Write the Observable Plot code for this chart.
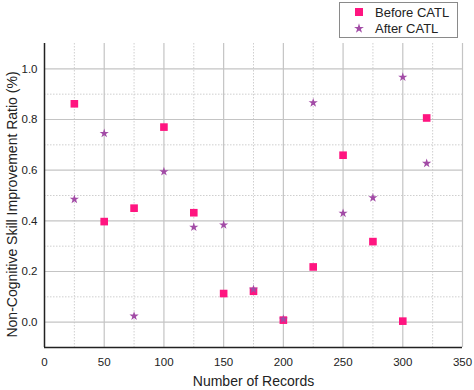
<!DOCTYPE html>
<html><head><meta charset="utf-8">
<script src="https://cdn.jsdelivr.net/npm/d3@7"></script>
<script src="https://cdn.jsdelivr.net/npm/@observablehq/plot@0.6"></script>
<style>
body{margin:0;background:#fff;font-family:"Liberation Sans",Arial,sans-serif;}
#wrap{position:relative;width:474px;height:390px;}
#legend{position:absolute;left:339px;top:2px;width:117px;height:34px;border:1px solid #8a8a8a;background:#fff;font-size:13px;color:#222;}
#legend .row{position:absolute;left:14px;display:flex;align-items:center;}
#legend svg{margin-right:11px;}
</style></head>
<body><div id="wrap"><div id="legend">
<div class="row" style="top:1px"><svg width="10" height="16"><rect x="1" y="4" width="8" height="8" fill="#ff1580"/></svg>Before CATL</div>
<div class="row" style="top:17px"><svg width="10" height="16"><path id="st" fill="#a24ba6"/></svg>After CATL</div>
</div></div>
<script>
const records = [25, 50, 75, 100, 125, 150, 175, 200, 225, 250, 275, 300, 320];
const beforeCATL = [0.862, 0.397, 0.450, 0.770, 0.432, 0.113, 0.122, 0.008, 0.218, 0.659, 0.318, 0.004, 0.806];
const afterCATL = [0.485, 0.745, 0.024, 0.594, 0.375, 0.384, 0.130, 0.012, 0.866, 0.430, 0.491, 0.967, 0.627];
const xMajor = [50, 100, 150, 200, 250, 300, 350];
const xMinor = [25, 75, 125, 175, 225, 275, 325];
const yMajor = [0, 0.2, 0.4, 0.6, 0.8, 1.0];
const yMinor = [0.1, 0.3, 0.5, 0.7, 0.9];
const xTicks = [0, 50, 100, 150, 200, 250, 300, 350];
const xLabel = "Number of Records";
const yLabel = "Non-Cognitive Skill Improvement Ratio (%)";

const before = records.map((x, i) => ({x, y: beforeCATL[i]}));
const after = records.map((x, i) => ({x, y: afterCATL[i]}));

const st = document.getElementById("st");
st.setAttribute("d", d3.symbol(d3.symbolStar, 30)());
st.setAttribute("transform", "translate(5,8.5)");

const chart = Plot.plot({
  width: 474, height: 390,
  marginLeft: 44, marginRight: 12, marginTop: 43, marginBottom: 43,
  style: {fontFamily: "Liberation Sans, Arial, sans-serif", fontSize: "11.5px", color: "#222", background: "white"},
  x: {domain: [0, 350]},
  y: {domain: [-0.1, 1.1]},
  marks: [
    Plot.ruleX(xMinor, {stroke: "#cfcfcf", strokeDasharray: "1.5,1.5"}),
    Plot.ruleY(yMinor, {stroke: "#cfcfcf", strokeDasharray: "1.5,1.5"}),
    Plot.ruleX(xMajor, {stroke: "#c4c4c4", strokeWidth: 1.2}),
    Plot.ruleY(yMajor, {stroke: "#c4c4c4", strokeWidth: 1.2}),
    Plot.axisX({ticks: xTicks, tickSize: 0, tickPadding: 10, fontSize: 11.5, label: null}),
    Plot.axisY({ticks: yMajor, tickSize: 0, tickPadding: 7, tickFormat: d3.format(".1f"), fontSize: 11.5, label: null}),
    Plot.text([xLabel], {text: d => d, frameAnchor: "bottom", textAnchor: "middle", dy: 38, fontSize: 14, fill: "#222"}),
    Plot.text([yLabel], {text: d => d, frameAnchor: "left", textAnchor: "middle", rotate: -90, dx: -32, dy: 9, fontSize: 14, fill: "#222"}),
    Plot.ruleX([0], {stroke: "#222", strokeWidth: 1.5}),
    Plot.ruleY([-0.1], {stroke: "#222", strokeWidth: 1.5}),
    Plot.dot(before, {x: "x", y: "y", symbol: "square", r: 4.3, fill: "#ff1580", stroke: "none"}),
    Plot.dot(after, {x: "x", y: "y", symbol: "star", r: 2.9, fill: "#a24ba6", stroke: "none"})
  ]
});
chart.style.position = "absolute";
chart.style.left = "0";
chart.style.top = "0";
const wrap = document.getElementById("wrap");
wrap.insertBefore(chart, wrap.firstChild);
</script></body></html>
